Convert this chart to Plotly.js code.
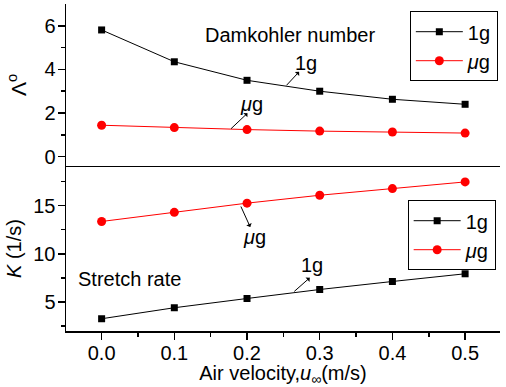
<!DOCTYPE html>
<html>
<head>
<meta charset="utf-8">
<script src="https://cdn.plot.ly/plotly-3.0.1.min.js"></script>
<style>html,body{margin:0;padding:0;background:#fff;}#chart{width:506px;height:387px;}</style>
</head>
<body>
<div id="chart"></div>
<script>
const airVelocity = [0.0, 0.1, 0.2, 0.3, 0.4, 0.5];
const damkohler1g = [5.81, 4.35, 3.50, 3.00, 2.63, 2.40];
const damkohlerMug = [1.44, 1.33, 1.24, 1.17, 1.13, 1.08];
const stretch1g = [3.27, 4.41, 5.37, 6.30, 7.13, 7.93];
const stretchMug = [13.35, 14.30, 15.25, 16.07, 16.76, 17.45];
const seriesNames = ['1g', '<i>μ</i>g'];
const xTicks = [0.0, 0.1, 0.2, 0.3, 0.4, 0.5];
const xTickText = ['0.0', '0.1', '0.2', '0.3', '0.4', '0.5'];

const FONT = 'Arial, "Liberation Sans", sans-serif';
const black = '#000000', red = '#ff0000';
const FS = 20;

const traces = [
  {x: airVelocity, y: damkohler1g, name: seriesNames[0], xaxis: 'x2', yaxis: 'y2', legend: 'legend',
   mode: 'lines+markers', line: {color: black, width: 1}, marker: {symbol: 'square', size: 7, color: black}},
  {x: airVelocity, y: damkohlerMug, name: seriesNames[1], xaxis: 'x2', yaxis: 'y2', legend: 'legend',
   mode: 'lines+markers', line: {color: red, width: 1}, marker: {symbol: 'circle', size: 9, color: red}},
  {x: airVelocity, y: stretch1g, name: seriesNames[0], xaxis: 'x', yaxis: 'y', legend: 'legend2',
   mode: 'lines+markers', line: {color: black, width: 1}, marker: {symbol: 'square', size: 7, color: black}},
  {x: airVelocity, y: stretchMug, name: seriesNames[1], xaxis: 'x', yaxis: 'y', legend: 'legend2',
   mode: 'lines+markers', line: {color: red, width: 1}, marker: {symbol: 'circle', size: 9, color: red}}
];

const xr = [-0.049, 0.548];
const yrTop = [-0.43, 7.0];
const yrBot = [2.0, 19.1];
const split = 0.5046;
const tickFont = {family: FONT, size: FS, color: black};
const axisBase = {showline: true, linecolor: black, linewidth: 1.5, showgrid: false, zeroline: false,
  tickcolor: black, tickwidth: 1.5, tickfont: tickFont};
const minorX = (dir) => ({ticks: dir, dtick: 0.05, tick0: 0, ticklen: 4, tickcolor: black, tickwidth: 1.5});

const layout = {
  width: 506, height: 387,
  margin: {l: 66, r: 6, t: 4, b: 56},
  paper_bgcolor: '#fff', plot_bgcolor: '#fff',
  font: {family: FONT, size: FS, color: black},
  showlegend: true,
  xaxis: Object.assign({}, axisBase, {range: xr, anchor: 'y', domain: [0, 1], ticks: 'outside', ticklen: 7,
    ticklabelstandoff: -4,
    tickvals: xTicks, ticktext: xTickText, minor: minorX('outside'), automargin: false,
    title: {text: 'Air velocity,<i>u</i><sub>∞</sub>(m/s)', font: {family: FONT, size: FS}, standoff: 6}}),
  xaxis3: Object.assign({}, axisBase, {range: xr, overlaying: 'x', anchor: 'y', side: 'top', ticks: 'inside', ticklen: 6,
    tickvals: xTicks, showticklabels: false, minor: minorX('inside')}),
  yaxis: Object.assign({}, axisBase, {range: yrBot, anchor: 'x', domain: [0, split], ticks: 'outside', ticklen: 7,
    ticklabelstandoff: -2, automargin: false,
    tickvals: [5, 10, 15], minor: {ticks: 'outside', tickvals: [2.5, 7.5, 12.5, 17.5], ticklen: 4, tickcolor: black, tickwidth: 1.5},
    title: {text: '<i>K</i> (1/s)', font: {family: FONT, size: FS}, standoff: 6}}),
  yaxis3: Object.assign({}, axisBase, {range: yrBot, overlaying: 'y', anchor: 'x', side: 'right', ticks: 'inside', ticklen: 6,
    tickvals: [5, 10, 15], showticklabels: false, minor: {ticks: 'inside', tickvals: [2.5, 7.5, 12.5, 17.5], ticklen: 4, tickcolor: black, tickwidth: 1.5}}),
  xaxis2: Object.assign({}, axisBase, {range: xr, anchor: 'y2', domain: [0, 1], ticks: '', showticklabels: false}),
  xaxis4: Object.assign({}, axisBase, {range: xr, overlaying: 'x2', anchor: 'y2', side: 'top', ticks: 'inside', ticklen: 6,
    tickvals: xTicks, showticklabels: false, minor: minorX('inside')}),
  yaxis2: Object.assign({}, axisBase, {range: yrTop, anchor: 'x2', domain: [split, 1], ticks: 'outside', ticklen: 7,
    ticklabelstandoff: -2, automargin: false,
    tickvals: [0, 2, 4, 6], minor: {ticks: 'outside', tickvals: [1, 3, 5], ticklen: 4, tickcolor: black, tickwidth: 1.5},
    title: {text: 'Λ<sup>o</sup>', font: {family: FONT, size: 21}, standoff: 12}}),
  yaxis4: Object.assign({}, axisBase, {range: yrTop, overlaying: 'y2', anchor: 'x2', side: 'right', ticks: 'inside', ticklen: 6,
    tickvals: [0, 2, 4, 6], showticklabels: false, minor: {ticks: 'inside', tickvals: [1, 3, 5], ticklen: 4, tickcolor: black, tickwidth: 1.5}}),
  legend: {x: 0.995, xanchor: 'right', y: 0.978, yanchor: 'top', bgcolor: '#fff', bordercolor: black, borderwidth: 1,
    font: {family: FONT, size: FS, color: black}, tracegroupgap: 0, itemwidth: 47},
  legend2: {x: 0.99, xanchor: 'right', y: 0.4, yanchor: 'top', bgcolor: '#fff', bordercolor: black, borderwidth: 1,
    font: {family: FONT, size: FS, color: black}, tracegroupgap: 0, itemwidth: 47},
  annotations: [
    {xref: 'x2', yref: 'y2', x: 0.259, y: 5.6, text: 'Damkohler number', showarrow: false, font: {family: FONT, size: FS}},
    {xref: 'x2', yref: 'y2', x: 0.281, y: 4.3, text: '1g', showarrow: false, font: {family: FONT, size: FS}},
    {xref: 'x2', yref: 'y2', x: 0.2543, y: 3.27, text: '', showarrow: true, arrowside: 'start', arrowhead: 2, arrowsize: 1, arrowwidth: 1, arrowcolor: black, ax: 14, ay: -15},
    {xref: 'x2', yref: 'y2', x: 0.206, y: 2.4, text: '<i>μ</i>g', showarrow: false, font: {family: FONT, size: FS}},
    {xref: 'x2', yref: 'y2', x: 0.178, y: 1.28, text: '', showarrow: true, arrowside: 'start', arrowhead: 2, arrowsize: 1, arrowwidth: 1, arrowcolor: black, ax: 18, ay: -17},
    {xref: 'x', yref: 'y', x: 0.21, y: 11.7, text: '<i>μ</i>g', showarrow: false, font: {family: FONT, size: FS}},
    {xref: 'x', yref: 'y', x: 0.1916, y: 14.9, text: '', showarrow: true, arrowside: 'start', arrowhead: 2, arrowsize: 1, arrowwidth: 1, arrowcolor: black, ax: 10, ay: 22},
    {xref: 'x', yref: 'y', x: 0.29, y: 8.86, text: '1g', showarrow: false, font: {family: FONT, size: FS}},
    {xref: 'x', yref: 'y', x: 0.265, y: 6.1, text: '', showarrow: true, arrowside: 'start', arrowhead: 2, arrowsize: 1, arrowwidth: 1, arrowcolor: black, ax: 17, ay: -15},
    {xref: 'x', yref: 'y', x: 0.038, y: 7.41, text: 'Stretch rate', showarrow: false, font: {family: FONT, size: FS}}
  ]
};

Plotly.newPlot('chart', traces, layout, {displayModeBar: false, staticPlot: true});
</script>
</body>
</html>
